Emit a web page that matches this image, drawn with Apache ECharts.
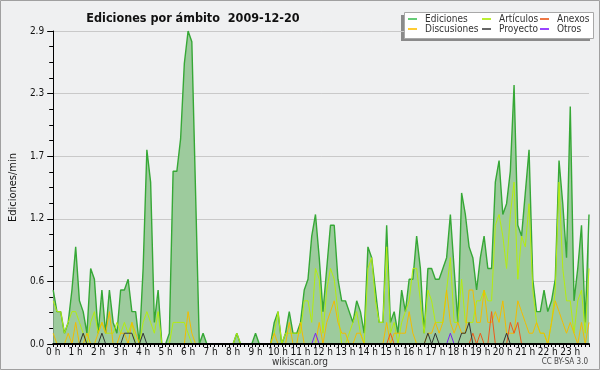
<!DOCTYPE html>
<html><head><meta charset="utf-8">
<script src="https://cdn.jsdelivr.net/npm/echarts@6/dist/echarts.min.js"></script>
<style>html,body{margin:0;padding:0;background:#eff0f1}#c{width:600px;height:370px}</style>
</head><body><div id="c"></div>
<script>
const hourLabels = ['0 h','1 h','2 h','3 h','4 h','5 h','6 h','7 h','8 h','9 h','10 h','11 h','12 h','13 h','14 h','15 h','16 h','17 h','18 h','19 h','20 h','21 h','22 h','23 h'];
const minuteSlots = ['00','10','20','30','40','50'];

const ediciones = [
0.5,0.3,0.3,0.1,0.2,0.5, 0.9,0.4,0.3,0.1,0.7,0.6, 0.1,0.5,0.1,0.5,0.2,0.1, 0.5,0.5,0.6,0.3,0.3,0.0,
0.7,1.8,1.5,0.2,0.5,0.0, 0.0,0.1,1.6,1.6,1.9,2.6, 2.9,2.8,1.4,0.0,0.1,0.0, 0,0,0,0,0,0,
0,0.1,0,0,0,0, 0.1,0,0,0,0,0.2, 0.3,0.0,0.1,0.3,0.1,0.1, 0.2,0.5,0.6,1.0,1.2,0.8,
0.3,0.7,1.1,1.1,0.6,0.4, 0.4,0.3,0.2,0.4,0.3,0.1, 0.9,0.8,0.5,0.2,0.2,1.1, 0.2,0.3,0.1,0.5,0.3,0.6,
0.6,1.0,0.7,0.1,0.7,0.7, 0.6,0.6,0.7,0.8,1.2,0.7, 0.2,1.4,1.2,0.9,0.8,0.5, 0.8,1.0,0.7,0.7,1.5,1.7,
1.2,1.3,1.6,2.4,1.1,1.0, 1.4,1.8,0.6,0.3,0.3,0.5, 0.3,0.4,0.6,1.7,1.3,0.8, 2.2,0.4,0.7,1.1,0.2,1.2
];
const articulos = [
0.4,0.3,0.3,0.1,0.2,0.3, 0.3,0.2,0.1,0.0,0.2,0.3, 0.1,0.2,0.1,0.1,0.1,0.2, 0.1,0.2,0.1,0.2,0.0,0.0,
0.2,0.3,0.2,0.1,0.3,0.0, 0,0,0.2,0.2,0.2,0.2, 0.1,0.0,0,0,0,0, 0,0,0,0,0,0,
0,0.1,0,0,0,0, 0,0,0,0,0,0.1, 0.3,0.0,0.1,0.1,0.1,0.1, 0.1,0.4,0.4,0.2,0.7,0.6,
0.1,0.5,0.7,0.6,0.3,0.0, 0.0,0.1,0.2,0.3,0.1,0.0, 0.7,0.8,0.4,0.2,0.2,0.9, 0.1,0.2,0.0,0.2,0.3,0.4,
0.7,0.7,0.4,0.1,0.5,0.4, 0.2,0.2,0.2,0.5,0.8,0.2, 0.2,0.6,0.2,0.2,0.2,0.4, 0.4,0.5,0.4,0.4,1.1,1.2,
1.0,0.7,1.2,1.5,0.6,1.0, 0.9,1.3,0.5,0.2,0.1,0.1, 0.0,0.2,0.5,1.5,0.7,0.4, 0.4,0.1,0.4,0.5,0.1,0.7
];
const discusiones = [
0.1,0,0,0,0.1,0, 0.2,0,0,0.1,0,0, 0.1,0.2,0.1,0.3,0,0, 0.1,0.1,0,0.2,0.1,0,
0,0,0,0,0,0, 0,0,0,0,0,0, 0.3,0.1,0,0,0,0, 0,0,0,0,0,0,
0,0,0,0,0,0, 0,0,0,0,0,0.1, 0,0,0,0.2,0,0, 0.2,0,0,0,0,0.2,
0,0.2,0.3,0.4,0.2,0.1, 0.1,0,0,0.1,0.1,0, 0,0,0,0,0,0.2, 0,0.1,0.1,0.1,0.1,0.3,
0.1,0,0,0,0.1,0.1, 0.2,0.1,0.2,0.5,0.2,0.1, 0.2,0.1,0.1,0.5,0.5,0.2, 0.2,0.5,0.2,0.2,0.3,0.2,
0.4,0.1,0.1,0.1,0.4,0.3, 0.2,0.1,0.1,0.2,0.1,0.1, 0,0.2,0.4,0.3,0.2,0.1, 0.2,0.1,0,0.2,0,0.2
];
const anexos = [
0,0,0,0,0,0, 0,0,0,0,0,0, 0,0,0,0,0,0, 0,0,0,0,0,0,
0,0,0,0,0,0, 0,0,0,0,0,0, 0,0,0,0,0,0, 0,0,0,0,0,0,
0,0,0,0,0,0, 0,0,0,0,0,0, 0,0,0,0,0,0, 0,0,0,0,0,0,
0,0,0,0,0,0, 0,0,0,0,0,0, 0,0,0,0,0,0, 0.1,0,0,0,0,0,
0,0,0,0,0,0, 0,0,0,0,0,0, 0,0,0,0,0.1,0, 0.1,0,0,0.3,0,0,
0,0,0.2,0.1,0.2,0, 0,0,0,0,0,0, 0,0,0,0,0,0, 0,0,0,0,0,0
];
const proyecto = [
0,0,0,0,0,0, 0,0,0.1,0,0,0, 0,0.1,0,0,0,0, 0,0.1,0.1,0.1,0,0,
0.1,0,0,0,0,0, 0,0,0,0,0,0, 0,0,0,0,0,0, 0,0,0,0,0,0,
0,0,0,0,0,0, 0,0,0,0,0,0, 0,0,0,0,0,0, 0,0,0,0,0,0,
0,0,0,0,0,0, 0,0,0,0,0,0, 0,0,0,0,0,0, 0,0,0,0,0,0,
0,0,0,0,0.1,0, 0.1,0,0,0,0,0, 0,0.1,0.1,0.2,0,0, 0,0,0,0,0,0,
0,0.1,0,0,0,0, 0,0,0,0,0,0, 0,0,0,0,0,0, 0,0,0,0,0,0
];
const otros = [
0,0,0,0,0,0, 0,0,0,0,0,0, 0,0,0,0,0,0, 0,0,0,0,0,0,
0,0,0,0,0,0, 0,0,0,0,0,0, 0,0,0,0,0,0, 0,0,0,0,0,0,
0,0,0,0,0,0, 0,0,0,0,0,0, 0,0,0,0,0,0, 0,0,0,0,0.1,0,
0,0,0,0,0,0, 0,0,0,0,0,0, 0,0,0,0,0,0, 0,0,0,0,0,0,
0,0,0,0,0,0, 0,0,0,0,0.1,0, 0,0,0,0,0,0, 0,0,0,0,0,0,
0,0,0,0,0,0, 0,0,0,0,0,0, 0,0,0,0,0,0, 0,0,0,0,0,0
];
const categories = [];
hourLabels.forEach(h => minuteSlots.forEach(m => categories.push(h + '|' + m)));

const FONT = "'DejaVu Sans Condensed','DejaVu Sans',sans-serif";
const chart = echarts.init(document.getElementById('c'), null, {renderer: 'canvas'});

function line(name, data, color, legendColor, width, z) {
  return {
    name, type: 'line', data, symbol: 'none', z,
    lineStyle: {color, width}, itemStyle: {color: legendColor},
    animation: false
  };
}
const edSeries = line('Ediciones', ediciones, '#36a836', '#66cc77', 1.4, 2);
edSeries.areaStyle = {color: '#9dcb9d', opacity: 1};

const legendCommon = {
  orient: 'vertical', top: 14, itemWidth: 9, itemHeight: 2, icon: 'rect', itemGap: 0,
  padding: 0, textStyle: {fontFamily: FONT, fontSize: 10, color: '#333', lineHeight: 10, padding: [0,0,0,3]}
};

chart.setOption({
  backgroundColor: '#eff0f1',
  animation: false,
  title: {
    text: 'Ediciones por ámbito  2009-12-20', left: 188, top: 7, textAlign: 'center',
    textStyle: {fontFamily: FONT, fontSize: 12.5, fontWeight: 'bold', color: '#111'}
  },
  graphic: [
    {type: 'rect', shape: {x: 0.5, y: 0.5, width: 599, height: 369}, style: {fill: 'none', stroke: '#a0a0a0', lineWidth: 1}, z: 100},
    {type: 'rect', shape: {x: 401, y: 15, width: 189, height: 26}, style: {fill: '#8a8a8a'}, z: 0},
    {type: 'rect', shape: {x: 404.5, y: 12.5, width: 189, height: 26}, style: {fill: '#ffffff', stroke: '#a8a8a8', lineWidth: 1}, z: 1},
    {type: 'text', left: 'center', top: 357, style: {text: 'wikiscan.org', font: "10px " + FONT, fill: '#333'}},
    {type: 'text', right: 12, top: 358, style: {text: 'CC BY-SA 3.0', font: "8px " + FONT, fill: '#444'}}
  ],
  legend: [
    Object.assign({left: 408, data: ['Ediciones', 'Discusiones']}, legendCommon),
    Object.assign({left: 482, data: ['Artículos', 'Proyecto']}, legendCommon),
    Object.assign({left: 540, data: ['Anexos', 'Otros']}, legendCommon)
  ],
  grid: {left: 46, right: 11, top: 31, bottom: 26, containLabel: false},
  xAxis: {
    type: 'category', data: categories, boundaryGap: false, z: 20,
    axisLine: {lineStyle: {color: '#000', width: 2}},
    axisTick: {interval: 0, length: 3, lineStyle: {color: '#000'}},
    axisLabel: {interval: 5, margin: 3, fontFamily: FONT, fontSize: 10, color: '#111',
      formatter: v => v.split('|')[0]},
    splitLine: {show: false}
  },
  yAxis: {
    type: 'value', min: 0, max: 2.9, interval: 0.58,
    name: 'Ediciones/min', nameLocation: 'middle', nameGap: 34, nameRotate: 90,
    nameTextStyle: {fontFamily: FONT, fontSize: 11, color: '#111'},
    axisLine: {show: true, lineStyle: {color: '#000'}},
    axisTick: {show: true, length: 6, lineStyle: {color: '#000'}},
    minorTick: {show: true, splitNumber: 4, length: 4, lineStyle: {color: '#000'}},
    axisLabel: {margin: 9, fontFamily: FONT, fontSize: 10, color: '#111',
      formatter: v => v.toFixed(1)},
    splitLine: {show: true, lineStyle: {color: '#c9c9c9', width: 1}}
  },
  series: [
    edSeries,
    line('Artículos', articulos, '#b4ec10', '#bbee33', 1, 3),
    line('Discusiones', discusiones, '#f2bc00', '#ffcc33', 1, 4),
    line('Anexos', anexos, '#ee5a1a', '#ee7744', 1, 5),
    line('Proyecto', proyecto, '#333333', '#666666', 1, 6),
    line('Otros', otros, '#7a22ee', '#9944ff', 1, 7)
  ]
});
</script></body></html>
